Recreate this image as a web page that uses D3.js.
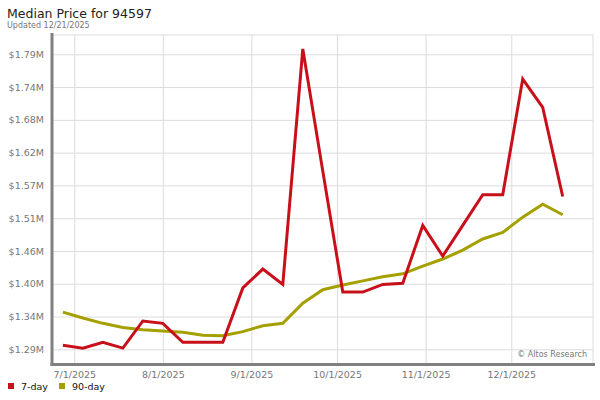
<!DOCTYPE html>
<html>
<head>
<meta charset="utf-8">
<script src="https://cdn.jsdelivr.net/npm/d3@7"></script>
<style>
  html, body { margin: 0; padding: 0; background: #fff; }
  svg { display: block; font-family: "DejaVu Sans", Verdana, sans-serif; }
</style>
</head>
<body>
<svg id="chart" width="600" height="400"></svg>
<script>
const title = "Median Price for 94597";
const subtitle = "Updated 12/21/2025";
const credit = "© Altos Research";

const dates = ["2025-06-27","2025-07-04","2025-07-11","2025-07-18","2025-07-25","2025-08-01","2025-08-08","2025-08-15","2025-08-22","2025-08-29","2025-09-05","2025-09-12","2025-09-19","2025-09-26","2025-10-03","2025-10-10","2025-10-17","2025-10-24","2025-10-31","2025-11-07","2025-11-14","2025-11-21","2025-11-28","2025-12-05","2025-12-12","2025-12-19"];

// values in $M
const sevenDay = [1.297,1.292,1.302,1.292,1.338,1.334,1.302,1.302,1.302,1.394,1.426,1.400,1.799,1.592,1.387,1.387,1.400,1.402,1.500,1.448,1.500,1.552,1.552,1.748,1.700,1.549];
const ninetyDay = [1.353,1.343,1.334,1.327,1.323,1.321,1.319,1.314,1.313,1.320,1.330,1.334,1.368,1.391,1.399,1.406,1.413,1.418,1.431,1.443,1.458,1.477,1.488,1.514,1.536,1.518];

const yTickLabels = ["$1.29M","$1.34M","$1.40M","$1.46M","$1.51M","$1.57M","$1.62M","$1.68M","$1.74M","$1.79M"];
const xTickDates = ["2025-07-01","2025-08-01","2025-09-01","2025-10-01","2025-11-01","2025-12-01"];
const xTickLabels = ["7/1/2025","8/1/2025","9/1/2025","10/1/2025","11/1/2025","12/1/2025"];

const seriesNames = ["7-day","90-day"];
const seriesColors = ["#c8101a","#a4a000"];

const parse = d3.timeParse("%Y-%m-%d");
const svg = d3.select("#chart");

const pLeft = 52, pRight = 593, pTop = 35, pBottom = 364;

const d0 = parse("2025-07-01"), d1 = parse("2025-12-01");
const pxPerMs = (511.3 - 74.3) / (d1 - d0);
const x = d3.scaleTime()
  .domain([new Date(+d0 - (74.3 - pLeft) / pxPerMs), new Date(+d1 + (pRight - 511.3) / pxPerMs)])
  .range([pLeft, pRight]);

const yTickVals = d3.range(yTickLabels.length).map(i => 1.29 + i * 0.5 / 9);
const pxPerUnit = (349.3 - 54.3) / 0.5;
const y = d3.scaleLinear()
  .domain([1.29 - (pBottom - 349.3) / pxPerUnit, 1.79 + (54.3 - pTop) / pxPerUnit])
  .range([pBottom, pTop]);

// title
svg.append("text").attr("x", 7).attr("y", 18)
  .attr("font-size", 12.5).attr("fill", "#222").text(title);
svg.append("text").attr("x", 7).attr("y", 28)
  .attr("font-size", 8).attr("fill", "#777").text(subtitle);

// plot border
svg.append("rect").attr("x", pLeft).attr("y", pTop)
  .attr("width", pRight - pLeft).attr("height", pBottom - pTop)
  .attr("fill", "none").attr("stroke", "#ddd").attr("stroke-width", 1);

// horizontal gridlines + y labels
const yAxis = d3.axisLeft(y).tickValues(yTickVals)
  .tickFormat((d, i) => yTickLabels[i])
  .tickSize(-(pRight - pLeft)).tickPadding(8);
const gy = svg.append("g").attr("transform", `translate(${pLeft},0)`).call(yAxis);
gy.select(".domain").remove();
gy.selectAll(".tick line").attr("stroke", "#dcdcdc").attr("stroke-width", 1);
gy.selectAll(".tick text").attr("font-size", 9.5).attr("fill", "#777")
  .attr("font-family", "DejaVu Sans, sans-serif");

// vertical gridlines + x labels
const xAxis = d3.axisBottom(x).tickValues(xTickDates.map(parse))
  .tickFormat((d, i) => xTickLabels[i])
  .tickSize(-(pBottom - pTop)).tickPadding(7);
const gx = svg.append("g").attr("transform", `translate(0,${pBottom})`).call(xAxis);
gx.select(".domain").remove();
gx.selectAll(".tick line").attr("stroke", "#dcdcdc").attr("stroke-width", 1);
gx.selectAll(".tick text").attr("font-size", 9.5).attr("fill", "#777")
  .attr("font-family", "DejaVu Sans, sans-serif");

// axis lines
svg.append("line").attr("x1", pLeft).attr("x2", pLeft).attr("y1", 33).attr("y2", pBottom + 2)
  .attr("stroke", "#808080").attr("stroke-width", 3);
svg.append("line").attr("x1", pLeft - 1.5).attr("x2", 595).attr("y1", pBottom + 0.5).attr("y2", pBottom + 0.5)
  .attr("stroke", "#808080").attr("stroke-width", 3);

// credit
svg.append("text").attr("x", 587).attr("y", 357).attr("text-anchor", "end")
  .attr("font-size", 8).attr("fill", "#777").text(credit);

// lines
const line = d3.line().x(d => x(d.date)).y(d => y(d.v));
[ninetyDay, sevenDay].forEach((vals, k) => {
  const si = 1 - k;
  const data = dates.map((d, i) => ({ date: parse(d), v: vals[i] }));
  svg.append("path").datum(data)
    .attr("d", line)
    .attr("fill", "none")
    .attr("stroke", seriesColors[si])
    .attr("stroke-width", 3)
    .attr("stroke-linejoin", "miter");
});

// legend
const legendX = [8, 59];
seriesNames.forEach((name, i) => {
  svg.append("rect").attr("x", legendX[i]).attr("y", 383)
    .attr("width", 6).attr("height", 6).attr("fill", seriesColors[i]);
  svg.append("text").attr("x", legendX[i] + 13).attr("y", 389.5)
    .attr("font-size", 9.5).attr("fill", "#111").text(name);
});
</script>
</body>
</html>
